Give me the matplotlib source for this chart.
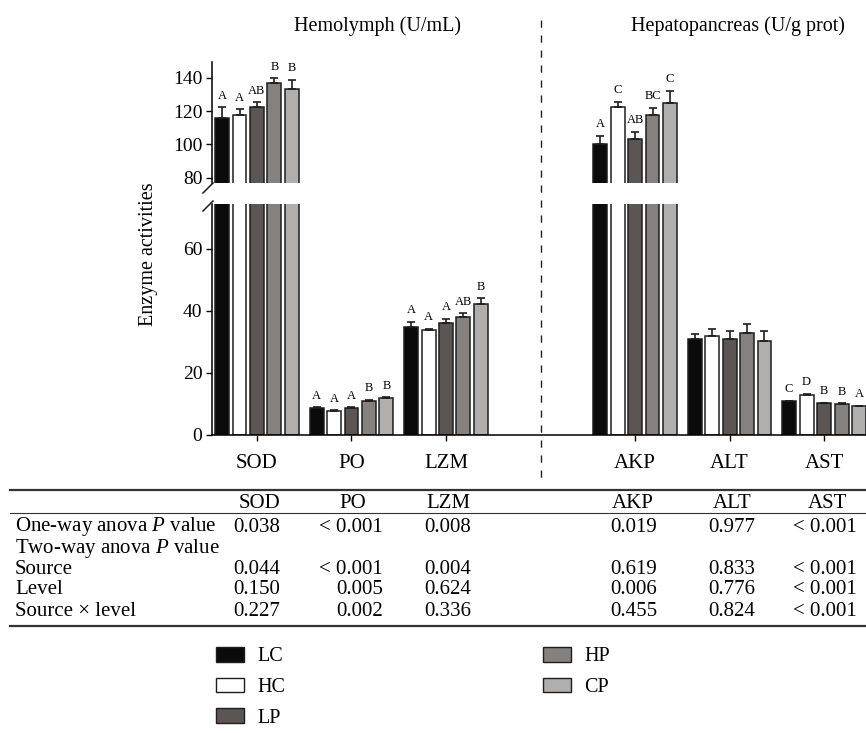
import matplotlib
matplotlib.use("Agg")
import matplotlib.pyplot as plt
import numpy as np
from matplotlib.lines import Line2D
from matplotlib.patches import Patch
import matplotlib.transforms as mtrans

plt.rcParams['font.family'] = ['Liberation Serif', 'DejaVu Serif']
plt.rcParams['mathtext.fontset'] = 'custom'
plt.rcParams['mathtext.rm'] = 'Liberation Serif'
plt.rcParams['mathtext.it'] = 'Liberation Serif:italic'

# ---------------- data ----------------
categories = ['SOD', 'PO', 'LZM', 'AKP', 'ALT', 'AST']
cat_pos = [0, 1, 2, 4, 5, 6]
groups = ['LC', 'HC', 'LP', 'HP', 'CP']
group_colors = ['#0b0b0b', '#ffffff', '#5b5653', '#85817f', '#b0afad']

LC = [116.0, 8.6, 34.7, 100.0, 31.1, 11.0]
HC = [117.4, 7.7, 33.9, 122.2, 31.9, 13.0]
LP = [122.2, 8.6, 36.0, 103.0, 31.1, 10.3]
HP = [136.6, 11.1, 38.2, 117.4, 32.8, 10.1]
CP = [133.4, 11.9, 42.2, 124.6, 30.2, 9.3]

LC_err = [6.2, 0.4, 1.9, 5.0, 1.6, 0.1]
HC_err = [3.6, 0.3, 0.3, 3.4, 2.2, 0.3]
LP_err = [3.0, 0.3, 1.5, 4.4, 2.4, 0.1]
HP_err = [3.0, 0.3, 1.0, 4.6, 3.1, 0.2]
CP_err = [5.2, 0.3, 1.9, 7.6, 3.5, 0.2]

LC_let = ['A', 'A', 'A', 'A', '', 'C']
HC_let = ['A', 'A', 'A', 'C', '', 'D']
LP_let = ['AB', 'A', 'A', 'AB', '', 'B']
HP_let = ['B', 'B', 'AB', 'BC', '', 'B']
CP_let = ['B', 'B', 'B', 'C', '', 'A']

values = [LC, HC, LP, HP, CP]
errors = [LC_err, HC_err, LP_err, HP_err, CP_err]
letters = [LC_let, HC_let, LP_let, HP_let, CP_let]

upper_ticks = [80, 100, 120, 140]
lower_ticks = [0, 20, 40, 60]

table_cols = ['SOD', 'PO', 'LZM', 'AKP', 'ALT', 'AST']
table_rows = ['One-way anova $P$ value', 'Two-way anova $P$ value',
              'Source', 'Level', 'Source \u00d7 level']
row_oneway = ['0.038', '< 0.001', '0.008', '0.019', '0.977', '< 0.001']
row_twoway = ['', '', '', '', '', '']
row_source = ['0.044', '< 0.001', '0.004', '0.619', '0.833', '< 0.001']
row_level = ['0.150', '0.005', '0.624', '0.006', '0.776', '< 0.001']
row_inter = ['0.227', '0.002', '0.336', '0.455', '0.824', '< 0.001']
table_data = [row_oneway, row_twoway, row_source, row_level, row_inter]

# ---------------- layout ----------------
W, H = 866, 733
fig = plt.figure(figsize=(W / 100, H / 100), dpi=100)


def fx(p):
    return p / W


def fy(p):
    return 1 - p / H


left, right = 212, 866
ax_top = fig.add_axes([fx(left), fy(183), fx(right) - fx(left), fy(62) - fy(183)])
ax_bot = fig.add_axes([fx(left), fy(435), fx(right) - fx(left), fy(204) - fy(435)])

xlim = (-0.476, 6.444)
top_lim = (76.8, 149.4)
bot_lim = (0, 74.5)

bar_w = 0.148
step = 0.185
edge = '#1e1e1e'
x = np.array(cat_pos, dtype=float)

for ax in (ax_top, ax_bot):
    for gi in range(len(groups)):
        xs = x + (gi - 2) * step
        ax.bar(xs, values[gi], width=bar_w, color=group_colors[gi],
               edgecolor=edge, linewidth=1.1, zorder=2)
        ax.errorbar(xs, values[gi], yerr=[np.zeros(len(xs)), errors[gi]],
                    fmt='none', ecolor=edge, elinewidth=1.2, capsize=2.6,
                    capthick=1.2, zorder=3)
    ax.set_xlim(*xlim)
    for s in ('top', 'right'):
        ax.spines[s].set_visible(False)
    ax.spines['left'].set_linewidth(1.1)
    ax.tick_params(axis='y', direction='out', length=4, width=1.0,
                   labelsize=14, pad=3)

ax_top.set_ylim(*top_lim)
ax_bot.set_ylim(*bot_lim)
ax_top.set_yticks(upper_ticks)
ax_bot.set_yticks(lower_ticks)
ax_top.spines['bottom'].set_visible(False)
ax_top.set_xticks([])
ax_bot.spines['bottom'].set_linewidth(1.1)
ax_bot.set_xticks(cat_pos)
ax_bot.set_xticklabels(categories)
ax_bot.tick_params(axis='x', direction='out', length=4, width=1.0,
                   labelsize=15, pad=10)

# significance letters
for gi in range(len(groups)):
    for ci in range(len(categories)):
        lab = letters[gi][ci]
        if not lab:
            continue
        v = values[gi][ci] + errors[gi][ci]
        ax = ax_top if values[gi][ci] > bot_lim[1] else ax_bot
        ax.annotate(lab, (cat_pos[ci] + (gi - 2) * step, v),
                    xytext=(0, 4), textcoords='offset points',
                    ha='center', va='bottom', fontsize=9)

# break marks
fig.add_artist(Line2D([fx(203), fx(213)], [fy(193), fy(183)], color='#1e1e1e', lw=1.1))
fig.add_artist(Line2D([fx(203), fx(213)], [fy(211), fy(201)], color='#1e1e1e', lw=1.1))

# y label
fig.text(fx(148), fy(254), 'Enzyme activities', rotation=90, ha='center',
         va='center', fontsize=14.5)

# section titles
fig.text(fx(378), fy(26), 'Hemolymph (U/mL)', ha='center', va='center', fontsize=14.5)
fig.text(fx(738), fy(26), 'Hepatopancreas (U/g prot)', ha='center', va='center', fontsize=14.5)

# dashed separator
blend = mtrans.blended_transform_factory(ax_bot.transData, fig.transFigure)
fig.add_artist(Line2D([3, 3], [fy(20), fy(484)], transform=blend, color='#222222',
                      lw=1.0, linestyle=(0, (5.2, 5.6))))

# ---------------- table ----------------
fig.add_artist(Line2D([fx(10), 1], [fy(490), fy(490)], color='#333333', lw=1.6))
fig.add_artist(Line2D([fx(10), 1], [fy(512.5), fy(512.5)], color='#333333', lw=0.8))
fig.add_artist(Line2D([fx(10), 1], [fy(626), fy(626)], color='#333333', lw=1.6))

head_x = [260, 353, 448, 633, 732, 827]
val_right = [280, 383, 471, 657, 755, 857]
tfs = 15
for cx, name in zip(head_x, table_cols):
    fig.text(fx(cx), fy(507.5), name, ha='center', va='baseline', fontsize=tfs)
row_base = [531.5, 552.5, 573.5, 594.5, 615.5]
for ry, rname, rvals in zip(row_base, table_rows, table_data):
    fig.text(fx(15), fy(ry), rname, ha='left', va='baseline', fontsize=tfs)
    for vx, val in zip(val_right, rvals):
        if val:
            fig.text(fx(vx), fy(ry), val, ha='right', va='baseline', fontsize=tfs)

# ---------------- legend ----------------
handles = [Patch(facecolor=c, edgecolor='#1e1e1e', linewidth=1.0) for c in group_colors]
fig.legend(handles, groups, ncol=2, loc='upper left',
           bbox_to_anchor=(fx(216), fy(647)), frameon=False, fontsize=14.5,
           borderpad=0, handlelength=1.4, handleheight=0.75, handletextpad=0.65,
           columnspacing=12.8, labelspacing=0.56, borderaxespad=0)

fig.savefig('out.png', dpi=100)
